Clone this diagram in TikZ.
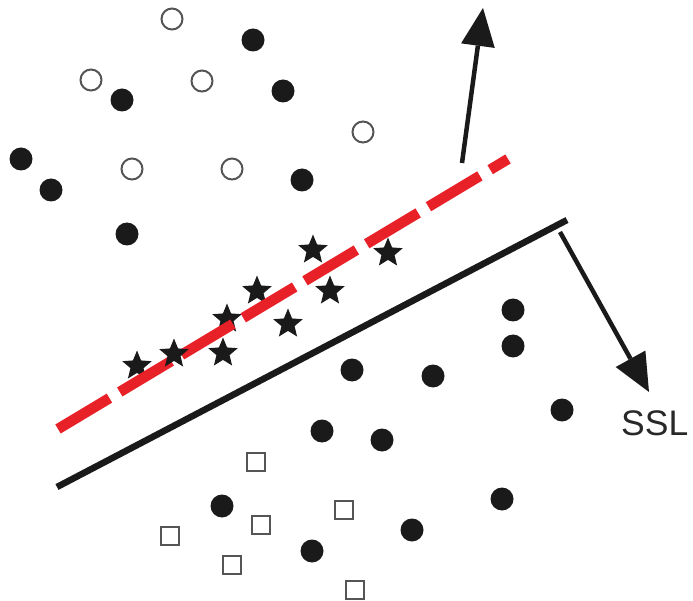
\documentclass[tikz,border=0pt]{standalone}
\usepackage{fontspec}
\setmainfont{Liberation Sans}
\usetikzlibrary{arrows.meta,shapes.geometric}
\definecolor{dashred}{RGB}{232,32,40}
\definecolor{ink}{RGB}{26,26,26}
\definecolor{hollow}{RGB}{85,85,85}
\definecolor{labelgray}{RGB}{40,40,40}
\tikzset{
  fdot/.style={circle, fill=ink, minimum size=23pt, inner sep=0pt},
  odot/.style={circle, draw=hollow, line width=2pt, minimum size=21pt, inner sep=0pt},
  sqbox/.style={rectangle, draw=hollow, line width=1.6pt, minimum size=18.5pt, inner sep=0pt},
  starpt/.style={star, star points=5, star point ratio=2.25, fill=ink, minimum size=31pt, inner sep=0pt},
  redline/.style={draw=dashred, line width=10.5pt, dash pattern=on 60pt off 12pt},
  sepline/.style={draw=ink, line width=6.5pt},
  bigarrow/.style={draw=ink, line width=4.5pt, -{Triangle[length=38pt,width=34pt,line width=0pt]}},
}
\begin{document}
\begin{tikzpicture}[x=1pt,y=-1pt]
\useasboundingbox (0,0) rectangle (693,601);
% line end points
\coordinate (rA) at (58,429);
\coordinate (rB) at (508,159);
\coordinate (bA) at (57,487);
\coordinate (bB) at (567,220);
\coordinate (uT) at (462,163);
\coordinate (uH) at (483,8);
\coordinate (sT) at (560,232);
\coordinate (sH) at (649,392);
% stars lying under the red line
\node[starpt] (s1) at (137,366) {};
\node[starpt] (s3) at (227,319) {};
\node[starpt] (s5) at (257,291) {};
% lines
\draw[redline] (rA) -- (rB);
\draw[sepline] (bA) -- (bB);
\draw[bigarrow] (uT) -- (uH);
\draw[bigarrow] (sT) -- (sH);
% open circles
\node[odot] (o1) at (172,19) {};
\node[odot] (o2) at (91,80) {};
\node[odot] (o3) at (202,81) {};
\node[odot] (o4) at (363,132) {};
\node[odot] (o5) at (132,169) {};
\node[odot] (o6) at (232,169) {};
% filled dots, upper group
\node[fdot] (f1) at (253,40) {};
\node[fdot] (f2) at (122,100) {};
\node[fdot] (f3) at (283,91) {};
\node[fdot] (f4) at (21,159) {};
\node[fdot] (f5) at (51,190) {};
\node[fdot] (f6) at (302,180) {};
\node[fdot] (f7) at (127,234) {};
% filled dots, lower group
\node[fdot] (g1) at (352,370) {};
\node[fdot] (g2) at (433,376) {};
\node[fdot] (g3) at (322,431) {};
\node[fdot] (g4) at (382,440) {};
\node[fdot] (g5) at (513,310) {};
\node[fdot] (g6) at (513,346) {};
\node[fdot] (g7) at (562,410) {};
\node[fdot] (g8) at (222,506) {};
\node[fdot] (g9) at (312,551) {};
\node[fdot] (g10) at (412,530) {};
\node[fdot] (g11) at (502,499) {};
% squares
\node[sqbox] (q1) at (256,462) {};
\node[sqbox] (q2) at (261,525) {};
\node[sqbox] (q3) at (344,510) {};
\node[sqbox] (q4) at (170,536) {};
\node[sqbox] (q5) at (232,565) {};
\node[sqbox] (q6) at (355,590) {};
% stars lying over the red line
\node[starpt] (s2) at (174,354) {};
\node[starpt] (s4) at (223,353) {};
\node[starpt] (s6) at (288,324) {};
\node[starpt] (s7) at (313,250) {};
\node[starpt] (s8) at (330,291) {};
\node[starpt] (s9) at (388,253) {};
% label
\node[anchor=base west, inner sep=0pt, text=labelgray, font=\fontsize{35.5}{42}\selectfont] (ssl) at (621,435) {SSL};
\end{tikzpicture}
\end{document}
